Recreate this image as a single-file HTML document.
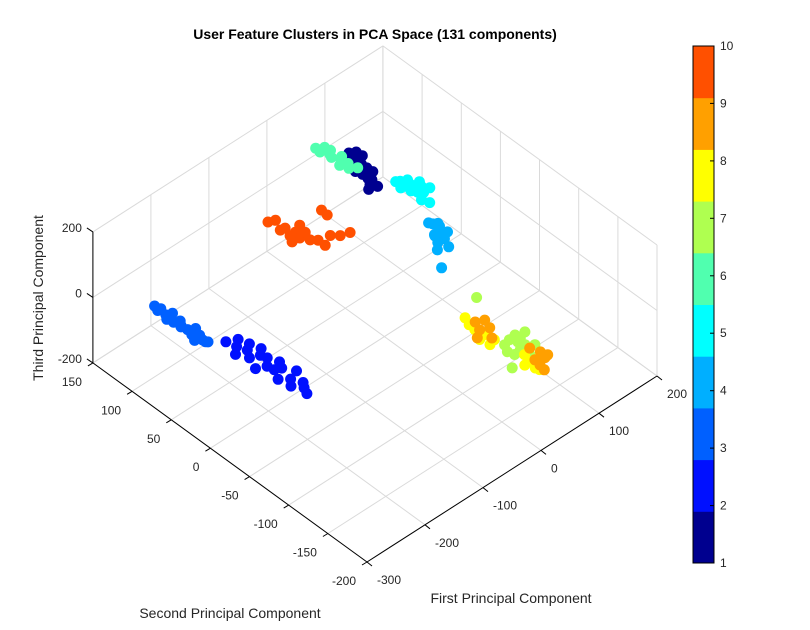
<!DOCTYPE html>
<html><head><meta charset="utf-8"><title>User Feature Clusters in PCA Space</title>
<style>
html,body{margin:0;padding:0;background:#fff;}
svg{display:block;font-family:"Liberation Sans",sans-serif;}
</style></head>
<body>
<svg id="chart" width="810" height="630" viewBox="0 0 810 630" xmlns="http://www.w3.org/2000/svg">
<rect width="810" height="630" fill="#fff"/>
<g id="grid"></g>
<g id="axes"></g>
<g id="points"></g>
<g id="cbar"></g>
<text x="375" y="39" text-anchor="middle" font-size="14" font-weight="bold" fill="#000">User Feature Clusters in PCA Space (131 components)</text>
<text transform="translate(43,298) rotate(-90)" text-anchor="middle" font-size="14" fill="#262626">Third Principal Component</text>
<text x="230" y="618" text-anchor="middle" font-size="14" fill="#262626">Second Principal Component</text>
<text x="511" y="603" text-anchor="middle" font-size="14" fill="#262626">First Principal Component</text>
</svg>
<script>
const xTicks = [-300,-200,-100,0,100,200];
const yTicks = [150,100,50,0,-50,-100,-150,-200];
const zTicks = [-200,0,200];
const cbarTicks = [1,2,3,4,5,6,7,8,9,10];
const clusterColors = ["#00008f","#0010ff","#0060ff","#00afff","#00ffff","#50ffaf","#afff50","#ffff00","#ffa000","#ff5000"];

const c1x = [40,50,38,55,45,48,35,52,42,57,46,50,44,39,53];
const c1y = [75,73,71,69,67,65,63,61,59,57,55,53,51,49,48];
const c1z = [185,180,176,170,166,160,155,150,145,140,135,130,125,120,115];
const c2x = [-195,-178,-190,-172,-200,-185,-168,-192,-180,-175,-198,-186,-170,-183,-177,-190,-165,-182,-188,-174,-179,-185];
const c2y = [58,55,48,45,42,38,33,30,25,20,18,12,8,5,0,-5,-10,-15,-20,-25,-30,-38];
const c2z = [-95,-102,-98,-105,-100,-97,-103,-99,-96,-101,-104,-100,-98,-102,-95,-106,-100,-97,-103,-99,-101,-98];
const c3x = [-214,-210,-218,-212,-206,-220,-215,-209,-213,-217,-211,-204,-216,-208,-222,-212,-207,-214];
const c3y = [135,130,128,122,118,115,110,106,102,99,95,90,86,82,78,75,72,70];
const c3z = [-98,-102,-95,-105,-100,-97,-103,-99,-101,-96,-104,-100,-98,-102,-95,-100,-106,-94];
const c4x = [60,68,72,64,70,75,62,66,71,68,65,73,67,69];
const c4y = [-12,-20,-15,-22,-10,-25,-18,-16,-24,-14,-20,-28,-18,-22];
const c4z = [100,95,90,88,82,78,72,65,60,55,48,40,20,-30];
const c5x = [58,65,72,80,62,70,78,85,60,68,75,82,66,73,64,70];
const c5y = [22,28,20,14,12,18,10,5,30,8,26,16,22,4,0,-6];
const c5z = [150,152,148,150,154,147,151,149,153,150,148,152,146,150,145,140];
const c6x = [30,40,28,42,35,33,45,38,31,40,36,43];
const c6y = [110,106,103,100,96,92,88,84,80,76,72,66];
const c6z = [150,148,153,147,152,150,146,154,149,151,148,152];
const c7x = [79,90,101,102,98,87,90,76,57,113,114,107,95,73];
const c7y = [-95,-93,-92,-98,-107,-109,-119,-110,-121,-34,-95,-113,-100,-103];
const c7z = [-150,-150,-150,-150,-150,-150,-150,-150,-150,-150,-150,-150,-150,-150];
const c8x = [77,72,71,63,66,76,85,81,78,80,72,74];
const c8y = [-46,-55,-63,-75,-86,-84,-116,-126,-135,-139,-126,-74];
const c8z = [-150,-150,-150,-150,-150,-150,-150,-150,-150,-150,-150,-150];
const c9x = [81,75,92,87,63,76,103,100,86,84,88,106,98];
const c9y = [-56,-66,-60,-70,-72,-81,-123,-131,-135,-142,-127,-130,-113];
const c9z = [-150,-150,-150,-150,-150,-150,-150,-150,-150,-150,-150,-150,-150];
const c10x = [-86,-77,-78,-83,-74,-77,-65,-70,-61,-63,-63,-46,-37,-24,-22,-23,-89,-85];
const c10y = [85,82,69,59,59,51,53,43,63,38,29,35,29,26,64,56,52,70];
const c10z = [100,100,100,100,100,100,100,100,100,100,100,100,100,100,100,100,100,100];

const clustersX = [c1x,c2x,c3x,c4x,c5x,c6x,c7x,c8x,c9x,c10x];
const clustersY = [c1y,c2y,c3y,c4y,c5y,c6y,c7y,c8y,c9y,c10y];
const clustersZ = [c1z,c2z,c3z,c4z,c5z,c6z,c7z,c8z,c9z,c10z];

const NS = "http://www.w3.org/2000/svg";
const XMIN=-300, XMAX=200, YMIN=-200, YMAX=150, ZMIN=-200, ZMAX=200;
const O = [367,562];
const UX = [0.58,-0.372], UY = [0.783,0.569], UZ = 131/400;
function proj(x,y,z){
  const a=x-XMIN, b=y-YMIN, c=z-ZMIN;
  return [O[0]+UX[0]*a-UY[0]*b, O[1]+UX[1]*a-UY[1]*b-UZ*c];
}
function line(g,p,q,stroke,w,name){
  const l=document.createElementNS(NS,"line");
  l.setAttribute("x1",p[0].toFixed(1));l.setAttribute("y1",p[1].toFixed(1));
  l.setAttribute("x2",q[0].toFixed(1));l.setAttribute("y2",q[1].toFixed(1));
  l.setAttribute("stroke",stroke);l.setAttribute("stroke-width",w);
  
  
  g.appendChild(l);return l;
}
function text(g,x,y,s,anchor,name){
  const t=document.createElementNS(NS,"text");
  t.setAttribute("x",x.toFixed(1));t.setAttribute("y",y.toFixed(1));
  t.setAttribute("font-size","12");t.setAttribute("fill","#262626");
  t.setAttribute("text-anchor",anchor);t.textContent=s;
  
  
  g.appendChild(t);return t;
}
const grid=document.getElementById("grid"), axes=document.getElementById("axes");
const GC="#dadada";
xTicks.forEach(x=>line(grid,proj(x,YMIN,ZMIN),proj(x,YMAX,ZMIN),GC,1,"floor-grid-x"));
yTicks.forEach(y=>line(grid,proj(XMIN,y,ZMIN),proj(XMAX,y,ZMIN),GC,1,"floor-grid-y"));
xTicks.forEach(x=>line(grid,proj(x,YMAX,ZMIN),proj(x,YMAX,ZMAX),GC,1,"wall-grid-x"));
zTicks.forEach(z=>line(grid,proj(XMIN,YMAX,z),proj(XMAX,YMAX,z),GC,1,"wall-grid-z"));
yTicks.forEach(y=>line(grid,proj(XMAX,y,ZMIN),proj(XMAX,y,ZMAX),GC,1,"wall-grid-y"));
zTicks.forEach(z=>line(grid,proj(XMAX,YMIN,z),proj(XMAX,YMAX,z),GC,1,"wall-grid-z"));
line(axes,proj(XMIN,YMIN,ZMIN),proj(XMAX,YMIN,ZMIN),"#000",1,"x-axis-line");
line(axes,proj(XMIN,YMIN,ZMIN),proj(XMIN,YMAX,ZMIN),"#000",1,"y-axis-line");
line(axes,proj(XMIN,YMAX,ZMIN),proj(XMIN,YMAX,ZMAX),"#000",1,"z-axis-line");
xTicks.forEach(x=>{const p=proj(x,YMIN,ZMIN);
  line(axes,p,[p[0]+5,p[1]+4],"#000",1,"x-tick");
  text(axes,p[0]+10,p[1]+22,String(x),"start","x-tick-label");});
yTicks.forEach(y=>{const p=proj(XMIN,y,ZMIN);
  line(axes,p,[p[0]-5,p[1]+3],"#000",1,"y-tick");
  text(axes,p[0]-11,p[1]+23,String(y),"end","y-tick-label");});
zTicks.forEach(z=>{const p=proj(XMIN,YMAX,z);
  line(axes,p,[p[0]-6,p[1]-4],"#000",1,"z-tick");
  text(axes,p[0]-11,p[1],String(z),"end","z-tick-label");});
const pts=document.getElementById("points");
clustersX.forEach((xs,k)=>{
  xs.forEach((x,i)=>{
    const p=proj(x,clustersY[k][i],clustersZ[k][i]);
    const c=document.createElementNS(NS,"circle");
    c.setAttribute("cx",p[0].toFixed(1));c.setAttribute("cy",p[1].toFixed(1));
    c.setAttribute("r","5.5");c.setAttribute("fill",clusterColors[k]);
    
    
    pts.appendChild(c);
  });
});
const cb=document.getElementById("cbar");
const CBX=693, CBW=21, CBT=46, CBB=563;
const bandH=(CBB-CBT)/clusterColors.length;
clusterColors.forEach((col,i)=>{
  const r=document.createElementNS(NS,"rect");
  r.setAttribute("x",CBX);r.setAttribute("y",(CBB-(i+1)*bandH).toFixed(2));
  r.setAttribute("width",CBW);r.setAttribute("height",(bandH+0.5).toFixed(2));
  r.setAttribute("fill",col);
  
  
  cb.appendChild(r);
});
const frame=document.createElementNS(NS,"rect");
frame.setAttribute("x",CBX);frame.setAttribute("y",CBT);frame.setAttribute("width",CBW);frame.setAttribute("height",CBB-CBT);
frame.setAttribute("fill","none");frame.setAttribute("stroke","#000");frame.setAttribute("stroke-width","1");


cb.appendChild(frame);
cbarTicks.forEach(v=>{
  const y=CBB-(v-1)/(cbarTicks.length-1)*(CBB-CBT);
  line(cb,[CBX+CBW-4,y],[CBX+CBW,y],"#000",1,"colorbar-tick");
  text(cb,CBX+CBW+6,y+4,String(v),"start","colorbar-tick-label");
});
</script>
</body></html>
